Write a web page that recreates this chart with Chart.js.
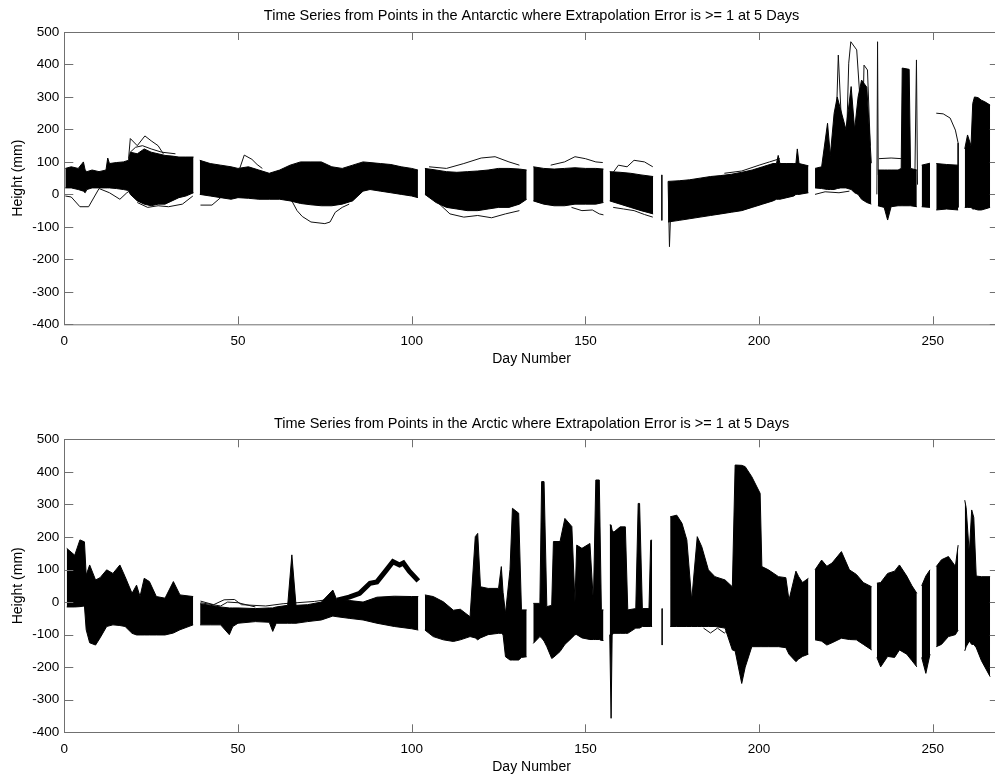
<!DOCTYPE html>
<html>
<head>
<meta charset="utf-8">
<script src="https://cdn.jsdelivr.net/npm/chart.js@4.4.1/dist/chart.umd.min.js"></script>
<style>
  html, body { margin: 0; padding: 0; background: #fff; overflow: hidden; }
  canvas { position: absolute; left: 0; }
</style>
</head>
<body>
<canvas id="chart-ant" width="1010" height="400" style="top:0"></canvas>
<canvas id="chart-arc" width="1010" height="376" style="top:400px"></canvas>
<script>
// ─── DADOS ────────────────────────────────────────────────
const dayTicks = [0, 50, 100, 150, 200, 250];
const heightTicks = [-400, -300, -200, -100, 0, 100, 200, 300, 400, 500];

// Antarctic: upper / lower edge of the bundle of series (null = data gap)
const antDays = [
  0.3, 2, 4, 5.5, 6, 6.5, 8, 10, 12, 12.5, 13, 15, 17, 18.5, 19, 21, 23, 25, 27, 29, 31, 33, 35, 37.2,
  38,
  39, 42, 45, 48, 50, 53, 56, 59, 62, 65, 68, 71, 74, 77, 80, 83, 86, 88, 91, 94, 97, 100, 101.8,
  102.8,
  103.8, 107, 110, 113, 116, 119, 122, 125, 128, 131, 133.1,
  134,
  135, 138, 141, 144, 147, 150, 153, 155.2,
  156,
  157, 160, 163, 166, 169.5,
  171,
  173.8, 177, 180, 183, 186, 189, 192, 195, 198, 201, 204, 205, 205.5, 206, 208, 210, 210.6, 211, 211.5, 214.2,
  215,
  216.1, 218, 219.7, 220.5, 221.6, 222.5, 223.5, 225, 226.5, 227.5, 228.5, 229.5, 231, 232.3,
  233.1,
  234.2, 236, 237, 238, 240, 240.9, 241.2, 243.2, 243.6, 245.4,
  246,
  246.8, 249.2,
  250,
  251, 254, 257.3,
  258.2,
  259.2, 260, 261, 261.5, 262, 263, 264, 265, 266.5
];
const antHigh = [
  80, 85, 80, 100, 75, 70, 75, 70, 75, 112, 95, 98, 100, 105, 130, 125, 140, 130, 125, 120, 118, 115, 115, 115,
  null,
  105, 95, 90, 85, 80, 85, 75, 65, 75, 90, 100, 100, 100, 85, 80, 90, 100, 98, 95, 92, 85, 80, 75,
  null,
  80, 75, 70, 68, 70, 72, 75, 80, 80, 78, 75,
  null,
  85, 80, 78, 80, 82, 80, 80, 78,
  null,
  70, 68, 65, 60, 55,
  null,
  40, 42, 45, 50, 55, 58, 62, 68, 75, 85, 95, 95, 120, 95, 95, 95, 95, 140, 95, 88,
  null,
  80, 85, 219, 120, 250, 300, 260, 200, 332, 200, 300, 352, 330, 96,
  null,
  75, 75, 75, 75, 75, 80, 389, 385, 80, 75,
  null,
  90, 96,
  null,
  95, 92, 90,
  null,
  140, 183, 150, 280, 300, 298, 290, 285, 275
];
const antLow = [
  20, 20, 15, 10, 5, 15, 20, 20, 20, 20, 20, 18, 15, 12, 0, -20, -30, -35, -30, -30, -20, -10, -5, 5,
  null,
  0, -5, -10, -15, -10, -12, -15, -15, -15, -20, -28, -32, -35, -35, -30, -20, 10, 15, 10, 5, 0, -5, -10,
  null,
  0, -25, -40, -45, -50, -50, -45, -40, -40, -30, -15,
  null,
  -20, -30, -35, -35, -30, -30, -30, -25,
  null,
  -20, -30, -40, -50, -60,
  null,
  -85, -80, -75, -70, -65, -60, -55, -50, -40, -30, -20, -15, -15, -15, -10, -5, 0, 0, 0, 5,
  null,
  20, 18, 15, 15, 15, 18, 20, 20, 15, 5, 0, -15, -25, -30,
  null,
  -35, -40, -79, -38, -35, -35, -35, -35, -35, -38,
  null,
  -38, -40,
  null,
  -48, -45, -48,
  null,
  -40, -40, -40, -45, -45, -48, -48, -45, -40
];
// Antarctic: single series that stand apart from the bundle
const antStrays = [
  [[0.3, -5], [2, -8], [4.5, -38], [7, -38], [10, 18], [13, 5], [16, -15], [18, 5], [19.5, 15]],
  [[18.5, 110], [19, 172], [21, 150], [23.2, 180], [25, 165], [27, 150], [28.5, 125]],
  [[19, 130], [20.5, 145], [22.5, 150], [25, 140], [28, 130], [32, 125]],
  [[21, -25], [24, -40], [27, -35], [30, -38], [34, -30], [37, -5]],
  [[39.2, -33], [42.5, -33], [45, -10], [47, -5]],
  [[50.5, 80], [51.8, 121], [54, 108], [55.5, 92], [57, 80]],
  [[65, -10], [67, -50], [68.5, -68], [71, -85], [75, -90], [76.5, -85], [78, -55], [80, -40], [82, -30]],
  [[105, 85], [110, 80], [115, 95], [120, 112], [124, 116], [128, 100], [131, 90]],
  [[107, -20], [111, -60], [115, -70], [119, -65], [123, -72], [127, -60], [131, -50]],
  [[140, 90], [144, 100], [147, 116], [150, 110], [153, 100], [155, 98]],
  [[146, -40], [149, -50], [152, -48], [154, -60], [155.2, -63]],
  [[157.5, 60], [159.5, 90], [162, 85], [164, 105], [167, 100], [169.4, 85]],
  [[158, -40], [161, -45], [164, -50], [167, -62], [169.4, -70]],
  [[172, 60], [172, -80]],
  [[173.8, 40], [174.2, -161], [174.6, -40]],
  [[190, 65], [195, 72], [200, 90], [203, 100], [206, 110]],
  [[222, 150], [222.8, 429], [223.8, 200]],
  [[225, 100], [225.8, 404], [226.4, 470], [228.1, 445], [229, 301], [229.5, 75]],
  [[229.8, 200], [230.2, 398], [231.2, 383], [232, 150]],
  [[216.1, 0], [219, 8], [223, 5], [226, 10]],
  [[233.9, 0], [234.1, 470], [234.3, 60]],
  [[234.5, 110], [238, 112], [241, 110]],
  [[244.8, 20], [245.3, 414], [245.6, 30]],
  [[251, 250], [253, 248], [255, 235], [256.5, 198], [257.3, 158], [257.3, -40]]
];

// Arctic: upper / lower edge of the bundle of series (null = data gap)
const arcDays = [
  0.7, 3, 4.5, 5.8, 6.3, 7.3, 9, 10.3, 12.2, 14, 16, 17.5, 19.5, 20.8, 21.8, 23, 24.5, 26.5, 29, 31.4, 33.3, 37.1,
  38,
  39.1, 42, 45, 47.5, 48.5, 50, 55, 59, 60, 61, 64.3, 65.5, 66.7, 70, 74, 77.3, 78.5, 82, 86, 90, 95, 100, 101.9,
  102.8,
  103.8, 106.2, 109.1, 112, 114, 116.8, 118.3, 119, 119.8, 122, 125, 125.8, 126.3, 127, 128.3, 129, 130.8, 131.6, 133.1,
  134,
  135, 136.9, 137.4, 138.1, 138.9, 140.3, 140.8, 142.7, 144.1, 146.1, 147, 147.5, 149, 151.3, 152.3, 153, 154, 154.6, 155.2,
  156,
  157, 157.4, 157.7, 158.2, 160, 161.5, 162.2, 164.5, 165.2, 165.6, 166.4, 168.3, 168.8, 169.2,
  171,
  174.4, 176.3, 177.8, 179.2, 180.6, 182.2, 183.5, 185.4, 187.3, 190.2, 192.3, 193.1, 195, 196, 197.9, 200.3, 200.8, 202.7, 205.6, 207.7, 208.6, 210.6, 211.4, 212.5, 214.2,
  215,
  216.1, 218, 219.5, 221, 223.7, 226, 228, 230, 232.4,
  233.1,
  233.9, 235, 237, 239, 240.4, 242.5, 244, 245.4,
  246,
  246.8, 248, 249.2,
  250,
  251, 252.5, 254.5, 256.5, 257.3,
  258.2,
  259.2, 259.6, 260.5, 261.2, 261.8, 262.5, 264, 266.5
];
const arcHigh = [
  165, 144, 191, 185, 83, 114, 68, 75, 99, 88, 114, 78, 27, 52, 17, 73, 63, 17, 12, 63, 22, 17,
  null,
  -5, -10, -15, -18, -18, -18, -20, -18, -18, -15, -10, 145, -10, -8, 0, 37, 5, 5, 0, 15, 18, 17, 17,
  null,
  22, 17, 1, -25, -22, -45, 201, 211, 47, 42, 42, 109, 30, -35, 100, 288, 273, -24, -24,
  null,
  -4, -4, 370, 370, -14, -10, 186, 186, 257, 232, 0, 175, 165, 180, 0, 375, 375, -24, -24,
  null,
  237, 237, 220, 215, 231, 231, -24, -20, 303, 303, -20, -20, 190, 190,
  null,
  262, 267, 242, 191, 6, 201, 170, 99, 78, 68, 47, 421, 420, 416, 385, 334, 109, 99, 78, 75, 6, 95, 78, 60, 73,
  null,
  99, 129, 110, 120, 155, 99, 85, 60, 47,
  null,
  58, 60, 88, 95, 114, 80, 50, 27,
  null,
  50, 80, 99,
  null,
  109, 130, 140, 110, 175,
  null,
  313, 290, 150, 283, 260, 80, 78, 78
];
const arcLow = [
  -15, -15, -14, -12, -85, -125, -132, -110, -75, -70, -72, -75, -96, -101, -101, -101, -101, -101, -101, -95, -85, -70,
  null,
  -70, -70, -70, -100, -75, -65, -60, -62, -90, -65, -65, -65, -65, -60, -55, -43, -45, -50, -55, -65, -75, -82, -86,
  null,
  -86, -106, -116, -121, -116, -106, -110, -116, -110, -100, -96, -96, -100, -168, -178, -178, -178, -170, -168,
  null,
  -127, -106, -110, -120, -137, -173, -170, -152, -130, -110, -100, -100, -110, -115, -115, -115, -115, -118, -118,
  null,
  -100, -357, -100, -96, -96, -96, -96, -80, -80, -80, -75, -75, -75, -75,
  null,
  -75, -75, -75, -75, -75, -75, -75, -75, -75, -80, -147, -150, -250, -200, -137, -137, -137, -137, -137, -140, -160, -183, -175, -167, -160,
  null,
  -116, -120, -132, -125, -111, -115, -116, -130, -147,
  null,
  -170, -199, -167, -170, -147, -160, -180, -199,
  null,
  -170, -219, -160,
  null,
  -137, -130, -106, -100, -86,
  null,
  -150, -137, -120, -130, -130, -140, -180, -229
];
// Arctic: thick ridge of series (days 78-102) and single series outside the bundle
const arcRidge = [[78.5, 6], [82, 15], [85, 27], [88, 58], [90, 62], [92.7, 98], [94.6, 124], [96.5, 114], [97.6, 120], [99.3, 95], [101.9, 65]];
const arcStrays = [
  [[39.2, 3], [43, -8], [46, 7], [49, 8], [51, -8], [58, -12], [63, -5], [67, -2], [72, 2], [76, 8], [80, 3], [86, -2], [92, -3]],
  [[39.2, -2], [45, -12], [47, 0], [50, -2], [55, -15]],
  [[172.1, -20], [172.1, -132]],
  [[184, -80], [186, -95], [188, -80], [190, -95], [191.5, -80]]
];

// ─── GRÁFICOS (Chart.js) ──────────────────────────────────

Chart.defaults.font.family = "'Liberation Sans', Arial, sans-serif";
Chart.defaults.color = '#000';

function bandSegments(days, high, low) {
  const out = [];
  let cur = null;
  days.forEach((d, i) => {
    if (high[i] === null) { cur = null; return; }
    if (!cur) { cur = { hi: [], lo: [] }; out.push(cur); }
    cur.hi.push({ x: d, y: high[i] });
    cur.lo.push({ x: d, y: low[i] });
  });
  return out;
}

function buildDatasets(days, high, low, strays, ridge) {
  const ds = [];
  bandSegments(days, high, low).forEach(s => {
    ds.push({ data: s.hi, fill: '+1', backgroundColor: '#000', borderColor: '#000', borderWidth: 1 });
    ds.push({ data: s.lo, fill: false, borderColor: '#000', borderWidth: 1 });
  });
  strays.forEach(line => {
    ds.push({ data: line.map(([x, y]) => ({ x, y })), fill: false, borderColor: '#111', borderWidth: 1 });
  });
  if (ridge) {
    ds.push({ data: ridge.map(([x, y]) => ({ x, y })), fill: false, borderColor: '#000', borderWidth: 5 });
  }
  return ds;
}

// box round the plot and inward ticks on all four sides
const framePlugin = {
  id: 'frame',
  afterDatasetsDraw(chart) {
    const { ctx, chartArea: a, scales: { x, y } } = chart;
    ctx.save();
    ctx.strokeStyle = '#707070';
    ctx.lineWidth = 1;
    ctx.strokeRect(Math.round(a.left) + 0.5, Math.round(a.top) + 0.5, a.right - a.left, a.bottom - a.top);
    ctx.beginPath();
    dayTicks.forEach(v => {
      const px = Math.round(x.getPixelForValue(v)) + 0.5;
      ctx.moveTo(px, a.top); ctx.lineTo(px, a.top + 8);
      ctx.moveTo(px, a.bottom); ctx.lineTo(px, a.bottom - 8);
    });
    heightTicks.forEach(v => {
      const py = Math.round(y.getPixelForValue(v)) + 0.5;
      ctx.moveTo(a.left, py); ctx.lineTo(a.left + 9, py);
      ctx.moveTo(a.right, py); ctx.lineTo(a.right - 9, py);
    });
    ctx.stroke();
    ctx.restore();
  }
};

function renderPanel(id, title, datasets, t) {
  const canvas = document.getElementById(id);
  return new Chart(canvas, {
    type: 'line',
    data: { datasets },
    plugins: [framePlugin],
    options: {
      responsive: false,
      animation: false,
      events: [],
      layout: { padding: { left: 0, right: 11.2, top: 0, bottom: t.padB } },
      elements: { point: { radius: 0 }, line: { tension: 0 } },
      plugins: {
        legend: { display: false },
        tooltip: { enabled: false },
        title: {
          display: true, text: title, fullSize: false, color: '#000',
          font: { size: 14.5, weight: 'normal' },
          padding: { top: t.titleTop, bottom: t.titleBottom }
        }
      },
      scales: {
        x: {
          type: 'linear', min: 0, max: 269,
          grid: { display: false, drawTicks: false },
          border: { display: false },
          ticks: { padding: 9, font: { size: 13.5 }, color: '#000', maxRotation: 0 },
          afterBuildTicks: s => { s.ticks = dayTicks.map(v => ({ value: v })); },
          afterFit: s => { s.height = t.xHeight; },
          title: { display: true, text: 'Day Number', font: { size: 14 }, color: '#000', padding: { top: 0, bottom: 0 } }
        },
        y: {
          type: 'linear', min: -400, max: 500,
          grid: { display: false, drawTicks: false },
          border: { display: false },
          ticks: { padding: 5, font: { size: 13.5 }, color: '#000' },
          afterBuildTicks: s => { s.ticks = heightTicks.map(v => ({ value: v })); },
          afterFit: s => { s.width = 64.3; },
          title: { display: true, text: 'Height (mm)', font: { size: 14 }, color: '#000', padding: { top: 9.3, bottom: 0 } }
        }
      }
    }
  });
}

renderPanel('chart-ant',
  'Time Series from Points in the Antarctic where Extrapolation Error is >= 1 at 5 Days',
  buildDatasets(antDays, antHigh, antLow, antStrays, null),
  { titleTop: 7.3, titleBottom: 7.3, xHeight: 43.1, padB: 32.6 });

renderPanel('chart-arc',
  'Time Series from Points in the Arctic where Extrapolation Error is >= 1 at 5 Days',
  buildDatasets(arcDays, arcHigh, arcLow, arcStrays, arcRidge),
  { titleTop: 15.3, titleBottom: 6.6, xHeight: 42.8, padB: 0.9 });
</script>
</body>
</html>
